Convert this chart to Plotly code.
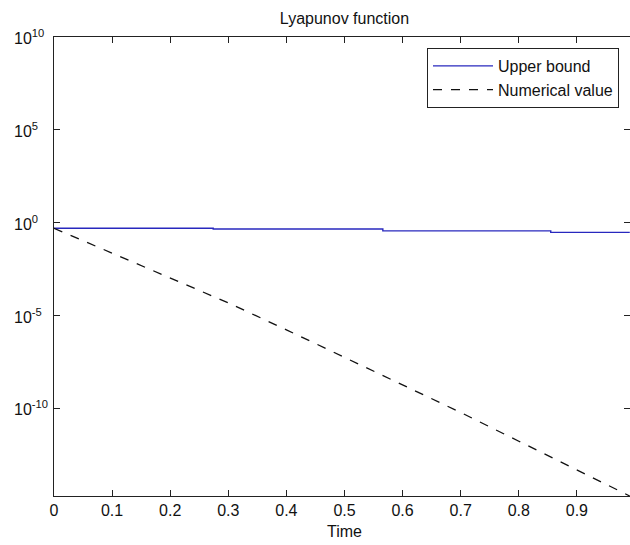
import plotly.graph_objects as go
import math

# ---- data ----
t_upper = [0.0, 0.274, 0.566, 0.855, 0.991]
upper_bound = [0.50, 0.46, 0.36, 0.30, 0.30]

t_num = [0.0, 0.1, 0.2, 0.3, 0.4, 0.5, 0.6, 0.7, 0.8, 0.9, 0.991]
numerical_value = [5.0e-1, 2.3e-2, 1.05e-3, 4.8e-5, 1.7e-6, 5.6e-8,
                   1.9e-9, 6.0e-11, 1.7e-12, 5.0e-14, 1.9e-15]

x_ticks = [0, 0.1, 0.2, 0.3, 0.4, 0.5, 0.6, 0.7, 0.8, 0.9]
x_tick_labels = ["0", "0.1", "0.2", "0.3", "0.4", "0.5", "0.6", "0.7", "0.8", "0.9"]
y_ticks = [1e10, 1e5, 1e0, 1e-5, 1e-10]
y_tick_labels = ["10<sup>10</sup>", "10<sup>5</sup>", "10<sup>0</sup>",
                 "10<sup>-5</sup>", "10<sup>-10</sup>"]

FONT = "Liberation Sans, Arial, sans-serif"
AX = "#222222"
TXT = "#111111"

fig = go.Figure()
fig.add_trace(go.Scatter(x=t_upper, y=upper_bound, mode="lines", name="Upper bound",
                         line=dict(color="rgb(40,40,190)", width=1.4, shape="hv")))
fig.add_trace(go.Scatter(x=t_num, y=numerical_value, mode="lines", name="Numerical value",
                         line=dict(color="#111111", width=1.3, dash="dash")))
# empty trace so the right-hand (box) axis with its ticks is drawn
fig.add_trace(go.Scatter(x=[None], y=[None], yaxis="y2", mode="lines",
                         showlegend=False, hoverinfo="skip"))

W, H = 630, 545
L, R, T, B = 54, 0, 37, 49
PW, PH = W - L - R, H - T - B

fig.update_layout(
    width=W, height=H,
    margin=dict(l=L, r=R, t=T, b=B),
    paper_bgcolor="white", plot_bgcolor="white",
    font=dict(family=FONT, size=16, color=TXT),
    title=dict(text="Lyapunov function", x=344.5 / W, xref="container", xanchor="center",
               y=1 - 18 / H, yref="container", yanchor="middle",
               font=dict(size=16, family=FONT, color=TXT)),
    showlegend=True,
    legend=dict(x=(427 - L) / PW, y=(H - B - 48) / PH,
                xanchor="left", yanchor="top", itemwidth=60,
                bgcolor="white", bordercolor=AX, borderwidth=1,
                font=dict(size=16, family=FONT, color=TXT)),
    xaxis=dict(range=[0, 0.9914], tickvals=x_ticks, ticktext=x_tick_labels,
               ticks="inside", ticklen=6, tickcolor=AX, showline=True, linecolor=AX,
               linewidth=1, mirror="ticks", showgrid=False, zeroline=False,
               tickfont=dict(size=16, family=FONT, color=TXT)),
    yaxis=dict(type="log", range=[-14.72, 10], tickvals=y_ticks, showticklabels=False,
               ticks="inside", ticklen=6, tickcolor=AX, showline=True, linecolor=AX,
               linewidth=1, mirror=False, showgrid=False, zeroline=False),
    yaxis2=dict(type="log", range=[-14.72, 10], tickvals=y_ticks, showticklabels=False,
                overlaying="y", side="right", ticks="inside", ticklen=6, tickcolor=AX,
                showline=False, showgrid=False, zeroline=False),
)

# y tick labels, left-aligned on the base like the reference
for v, lab in zip(y_ticks, y_tick_labels):
    fig.add_annotation(x=(12 - L) / PW, xref="paper", y=math.log10(v), yref="y",
                       text=lab, showarrow=False, xanchor="left", yanchor="middle",
                       font=dict(size=16, family=FONT, color=TXT))

fig.add_annotation(x=(344.5 - L) / PW, xref="paper", y=-(531 - (H - B)) / PH,
                   yref="paper", text="Time", showarrow=False, xanchor="center",
                   yanchor="middle", font=dict(size=16, family=FONT, color=TXT))

fig.write_html("out.html", config={"displayModeBar": False},
               post_script="document.body.style.margin='0px';document.body.style.overflow='hidden';")
